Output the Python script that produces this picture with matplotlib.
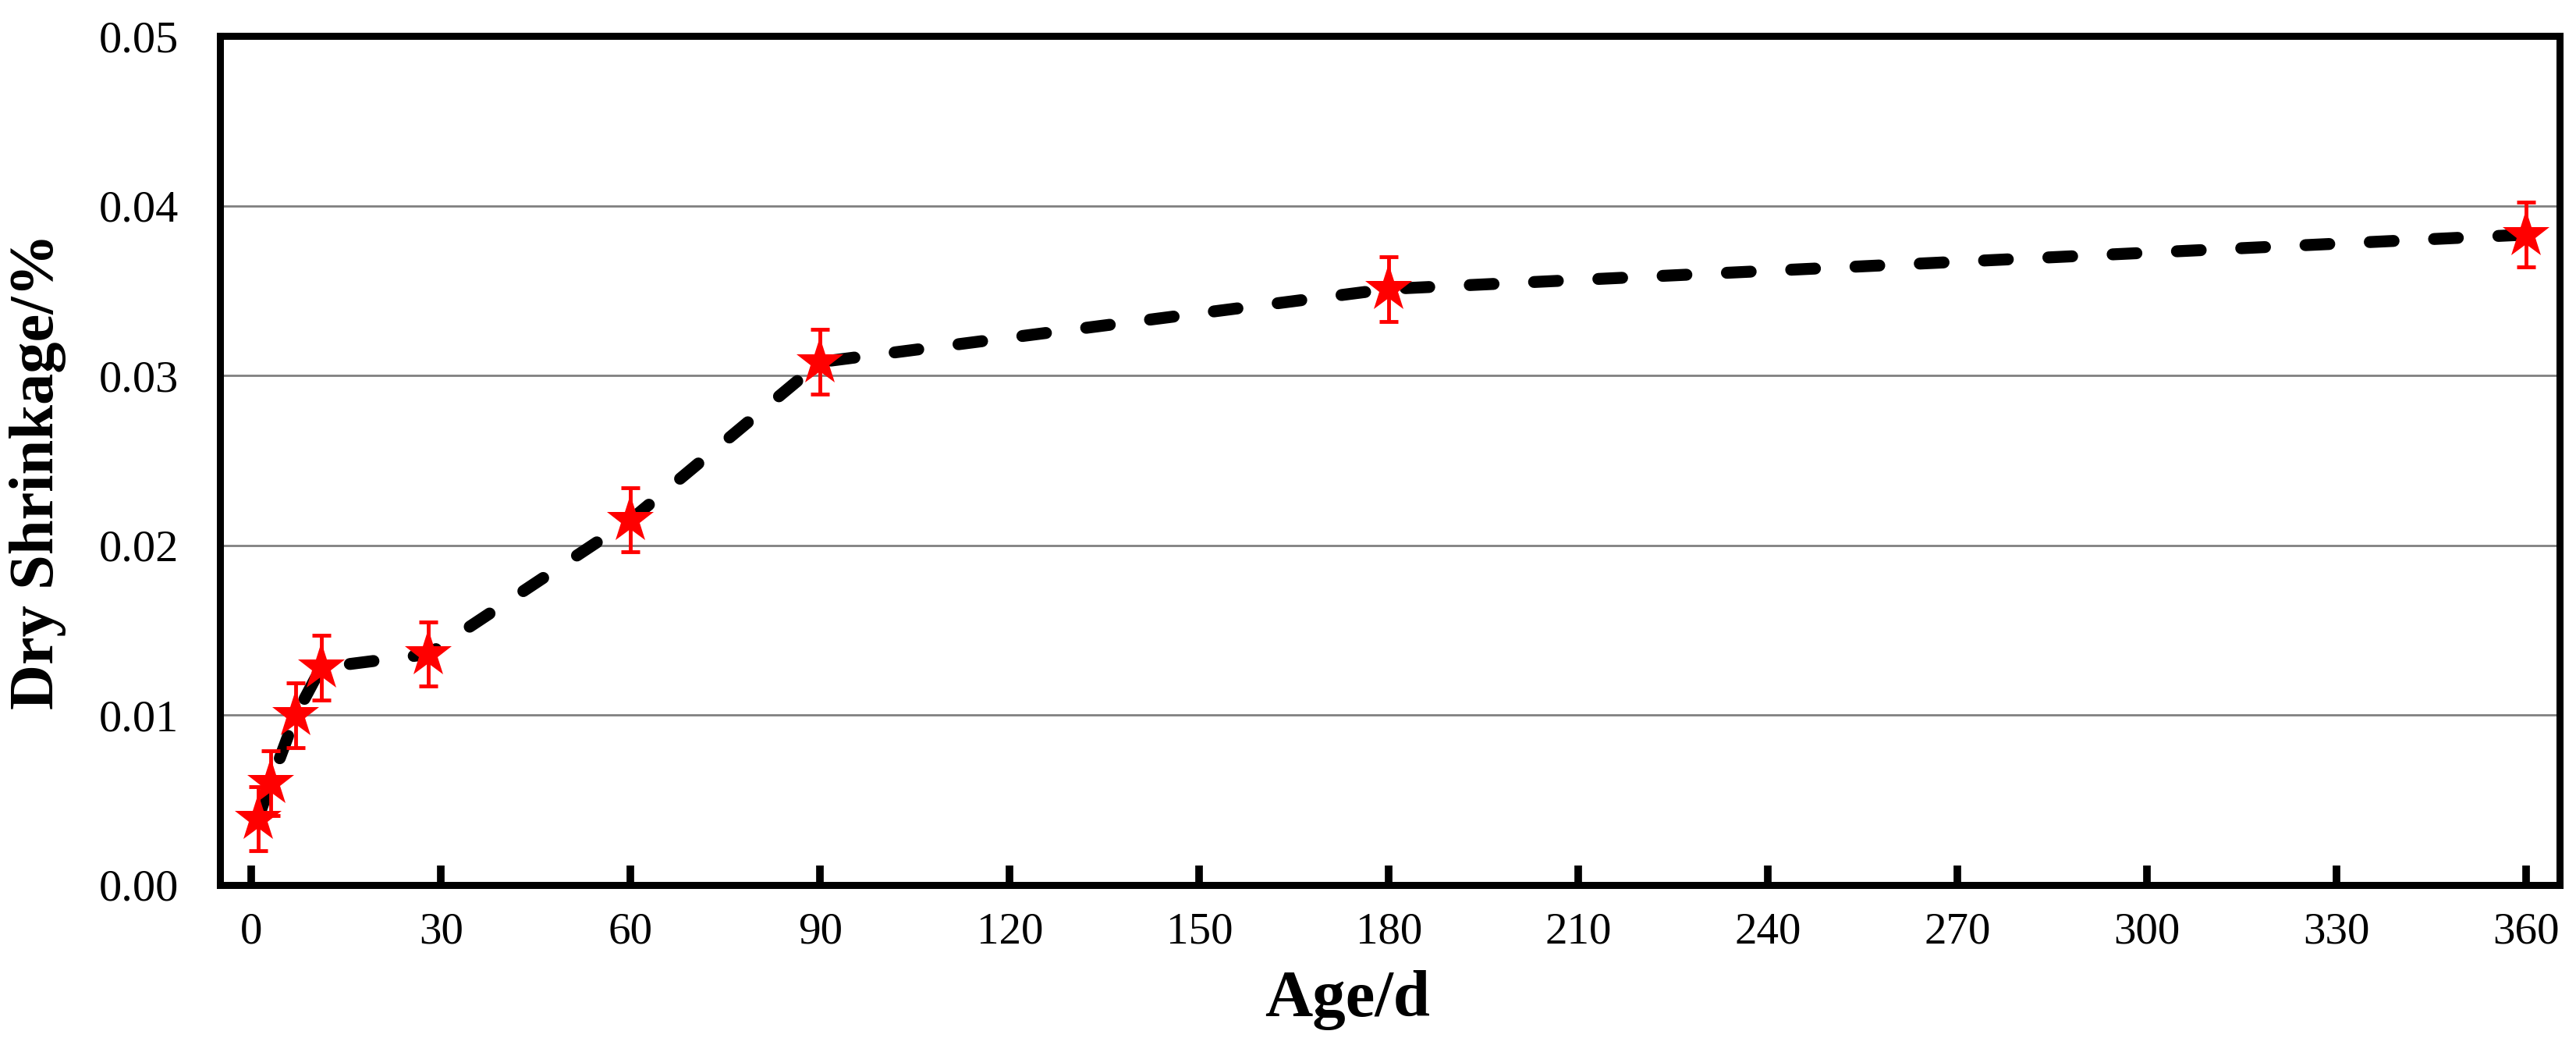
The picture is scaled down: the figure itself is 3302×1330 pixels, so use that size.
import matplotlib.pyplot as plt
import numpy as np

plt.rcParams['font.family'] = ['Liberation Serif', 'DejaVu Serif']

# Edad (días) y retracción por secado (%)
edad = [1, 3, 7, 11, 28, 60, 90, 180, 360]
retraccion = [0.0039, 0.0060, 0.0100, 0.0128, 0.0136, 0.0215, 0.0308, 0.0351, 0.0383]
error = [0.0019, 0.0019, 0.0019, 0.0019, 0.0019, 0.0019, 0.0019, 0.0019, 0.0019]
xticks = [0, 30, 60, 90, 120, 150, 180, 210, 240, 270, 300, 330, 360]
yticks = [0.00, 0.01, 0.02, 0.03, 0.04, 0.05]

fig = plt.figure(figsize=(33.02, 13.30), dpi=100)
ax = fig.add_axes([0.0854, 0.1474, 0.9936 - 0.0854, 0.9654 - 0.1474])

ax.grid(True, axis='y', color='#808080', linewidth=2)
ax.set_axisbelow(True)

ax.plot(edad, retraccion, color='black', linestyle=(0, (2.0, 3.4)), linewidth=11,
        dash_capstyle='round', zorder=2)
ax.errorbar(edad, retraccion, yerr=error, fmt='none', ecolor='red', elinewidth=3.5,
            capsize=8.5, capthick=3.5, zorder=3)
ax.plot(edad, retraccion, linestyle='none', marker='*', markersize=46, color='red',
        markeredgewidth=0, zorder=4)

ax.set_xlim(-5, 365.3)
ax.set_ylim(0, 0.05)
ax.set_xticks(xticks)
ax.set_yticks(yticks)
ax.set_yticklabels(['%.2f' % v for v in yticks])

for s in ax.spines.values():
    s.set_linewidth(6.5)

ax.tick_params(axis='x', direction='in', length=18, width=7, labelsize=41, pad=25)
ax.tick_params(axis='y', length=0, labelsize=42, pad=38)

ax.set_xlabel('Age/d', fontsize=61, fontweight='bold', labelpad=16, x=0.482)
ax.set_ylabel('Dry Shrinkage/%', fontsize=58, fontweight='bold', labelpad=30, y=0.487)

plt.savefig('out.png', dpi=100)
